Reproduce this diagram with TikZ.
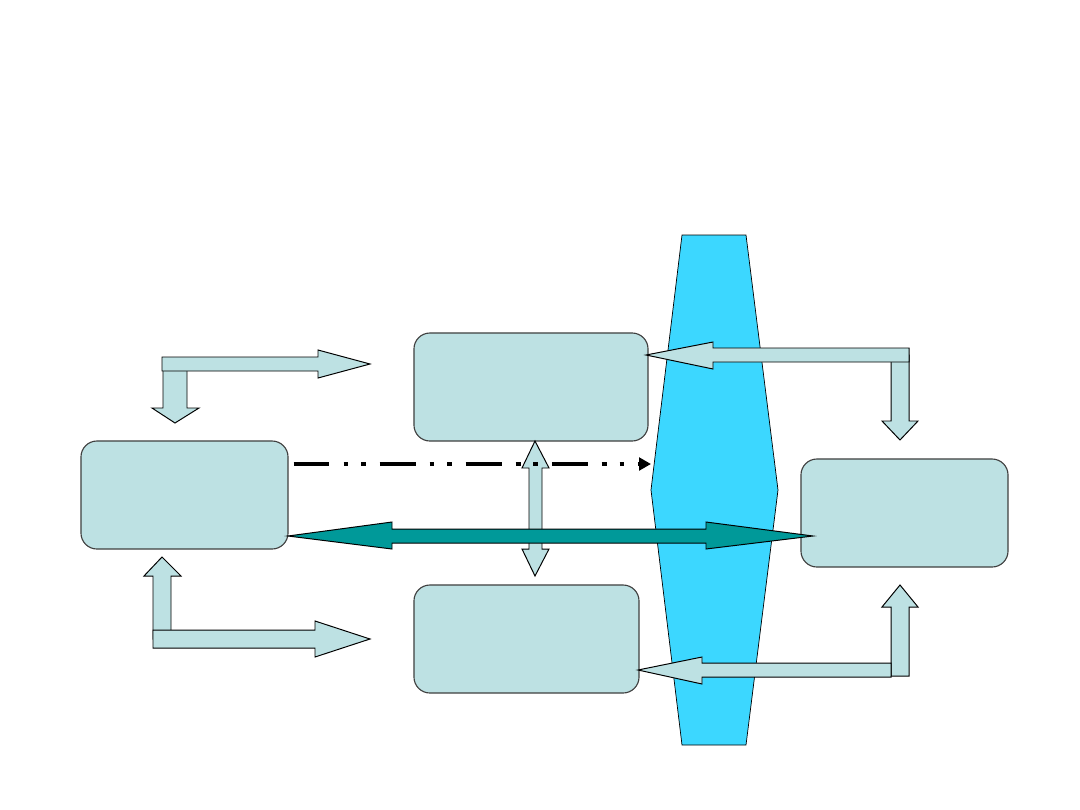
\documentclass[tikz,border=0pt]{standalone}
\usetikzlibrary{positioning,calc,arrows.meta}
\definecolor{boxfill}{RGB}{189,225,227}
\definecolor{lensblue}{RGB}{60,215,255}
\definecolor{tealarrow}{RGB}{0,153,153}
\definecolor{boxline}{RGB}{64,64,64}

\begin{document}
\begin{tikzpicture}[x=0.025cm, y=-0.025cm,
    unit/.style={draw=boxline, fill=boxfill, rounded corners=0.4cm, minimum width=#1, minimum height=2.7cm, inner sep=0pt, line width=0.8pt},
    blockarrow/.style={draw=black, fill=boxfill, line width=0.7pt, line join=miter},
    dashdot/.style={line width=3.5pt, dash pattern=on 25.5pt off 10pt on 3.5pt off 9.2pt on 3.5pt off 9.5pt, -{Triangle[length=8.5pt, width=9pt]}}]

        \useasboundingbox (0,0) rectangle (1080,810);

        % lens in the middle
        \filldraw [fill=lensblue, draw=black, line width=0.5pt] (682,235) -- (746,235) -- (778,490) -- (746,745) -- (682,745) -- (651,490) -- cycle;
        \coordinate (lensl) at (651,464);

        \node [unit=5.175cm] (srcbox) at (184.5,495) {};
        \node [unit=5.85cm] (topbox) at (531,387) {};
        \node [unit=5.625cm] (botbox) at (526.5,639) {};
        \node [unit=5.175cm] (dstbox) at (904.5,513) {};

        % bent arrows on the left
        \filldraw [blockarrow] (163,364) -- (187,364) -- (187,408) -- (199,408) -- (175,423) -- (152,408) -- (163,408) -- cycle;
        \filldraw [blockarrow] (162,357) -- (318,357) -- (318,350) -- (370,364) -- (318,378) -- (318,371) -- (162,371) -- cycle;
        \filldraw [blockarrow] (153,639) -- (153,576) -- (144,576) -- (162,557) -- (181,576) -- (171,576) -- (171,639) -- cycle;
        \filldraw [blockarrow] (153,630) -- (315,630) -- (315,621) -- (370,639) -- (315,657) -- (315,648) -- (153,648) -- cycle;

        % bent arrows on the right
        \filldraw [blockarrow] (891,355) -- (909,355) -- (909,421) -- (918,421) -- (900,440) -- (882,421) -- (891,421) -- cycle;
        \filldraw [blockarrow] (909,348) -- (713,348) -- (713,342) -- (646,355) -- (713,369) -- (713,362) -- (909,362) -- cycle;
        \filldraw [blockarrow] (891,676) -- (891,607) -- (882,607) -- (900,585) -- (918,607) -- (909,607) -- (909,676) -- cycle;
        \filldraw [blockarrow] (891,663) -- (702,663) -- (702,657) -- (638,670) -- (702,684) -- (702,677) -- (891,677) -- cycle;

        % up and down between the middle boxes
        \filldraw [blockarrow] (535,441) -- (549,468) -- (542,468) -- (542,549) -- (549,549) -- (535,576) -- (522,549) -- (529,549) -- (529,468) -- (522,468) -- cycle;

        \draw [dashdot] ($(srcbox.east |- lensl)+(5,0)$) -- (lensl);

        \filldraw [blockarrow, fill=tealarrow] (288,536) -- (392,522) -- (392,529) -- (706,529) -- (706,522) -- (813,536) -- (706,549) -- (706,543) -- (392,543) -- (392,549) -- cycle;

\end{tikzpicture}
\end{document}
